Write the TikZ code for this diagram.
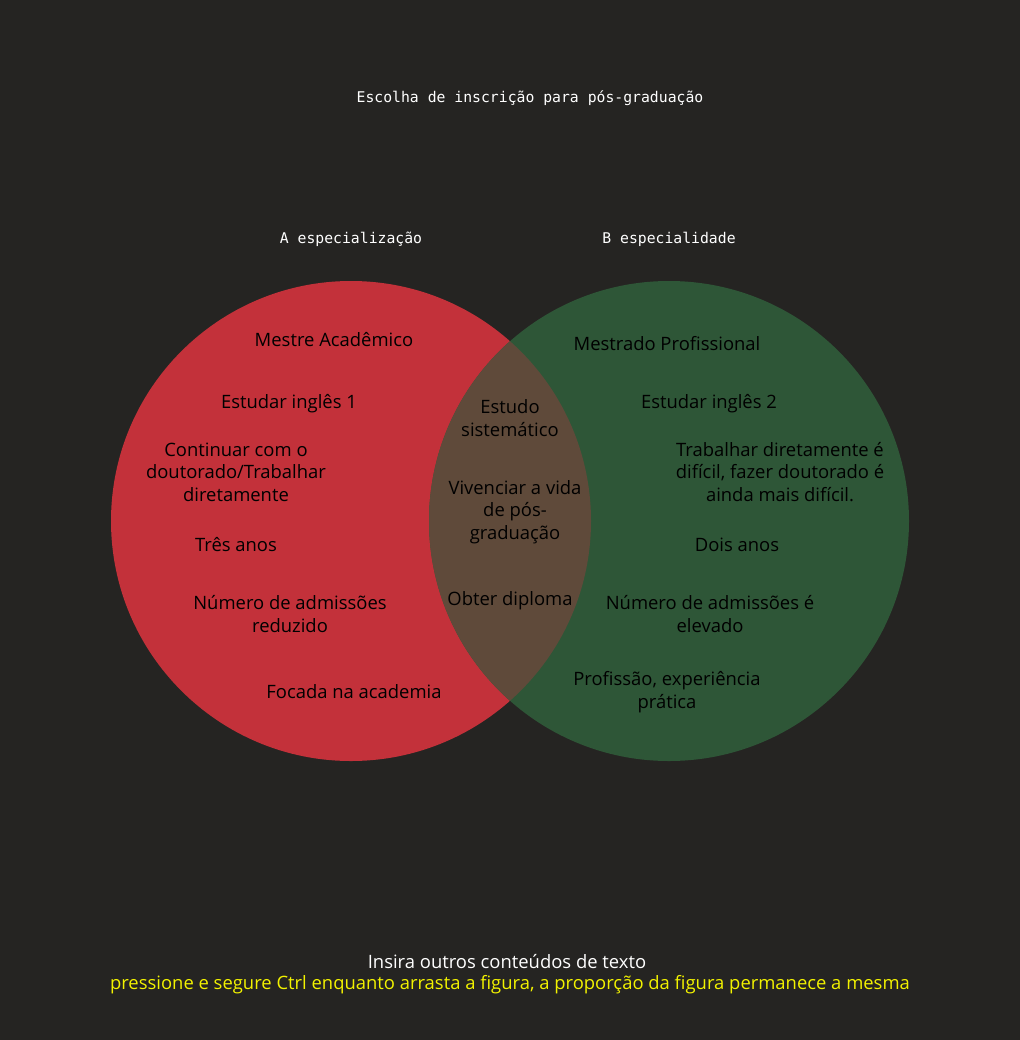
\documentclass[tikz,border=0pt]{standalone}
\usepackage{fontspec}
\setmainfont{Open Sans}
\newfontfamily\titlefont{DejaVu Sans Mono}
\definecolor{bgdark}{HTML}{252422}
\definecolor{vennred}{HTML}{C3313A}
\definecolor{venngreen}{HTML}{2E5637}
\definecolor{vennmid}{HTML}{5F4A3A}
\definecolor{hintyellow}{HTML}{F2F200}

\begin{document}
\begin{tikzpicture}[x=0.025cm, y=-0.025cm,
    label/.style={align=center, font=\fontsize{13.1}{16}\selectfont, text=black, inner sep=0pt},
    head/.style={text=white, font=\titlefont\fontsize{10.5}{12}\selectfont, inner sep=0pt}]
    % Background
    \fill[bgdark] (0,0) rectangle (1020,1040);
    \useasboundingbox (0,0) rectangle (1020,1040);

    % Circles
    \fill[vennred] (351,521) circle[radius=240];
    \fill[venngreen] (669,521) circle[radius=240];
    \begin{scope}
        \clip (351,521) circle[radius=240];
        \fill[vennmid] (669,521) circle[radius=240];
    \end{scope}

    % Headings
    \node[head] (title) at (530,98) {Escolha de inscrição para pós-graduação};
    \node[head] (setA) at (351,239) {A especialização};
    \node[head] (setB) at (669,239) {B especialidade};

    % Set A
    \node[label] (a1) at (334,340) {Mestre Acadêmico};
    \node[label] (a2) at (289,404) {Estudar inglês 1};
    \node[label] (a3) at (236,472) {Continuar com o\\doutorado/Trabalhar\\diretamente};
    \node[label] (a4) at (236,545) {Três anos};
    \node[label] (a5) at (290,614) {Número de admissões\\reduzido};
    \node[label] (a6) at (354,692) {Focada na academia};

    % Both
    \node[label] (ab1) at (510,418) {Estudo\\sistemático};
    \node[label] (ab2) at (515,512) {Vivenciar a vida\\de pós-\\graduação};
    \node[label] (ab3) at (510,601) {Obter diploma};

    % Set B
    \node[label] (b1) at (667,344) {Mestrado Profissional};
    \node[label] (b2) at (709,404) {Estudar inglês 2};
    \node[label] (b3) at (780,472) {Trabalhar diretamente é\\difícil, fazer doutorado é\\ainda mais difícil.};
    \node[label] (b4) at (737,545) {Dois anos};
    \node[label] (b5) at (710,614) {Número de admissões é\\elevado};
    \node[label] (b6) at (667,692) {Profissão, experiência\\prática};

    % Footer
    \node[label, text=white] (note) at (507,962) {Insira outros conteúdos de texto};
    \node[label, text=hintyellow] (hint) at (510,985) {pressione e segure Ctrl enquanto arrasta a figura, a proporção da figura permanece a mesma};
\end{tikzpicture}
\end{document}
